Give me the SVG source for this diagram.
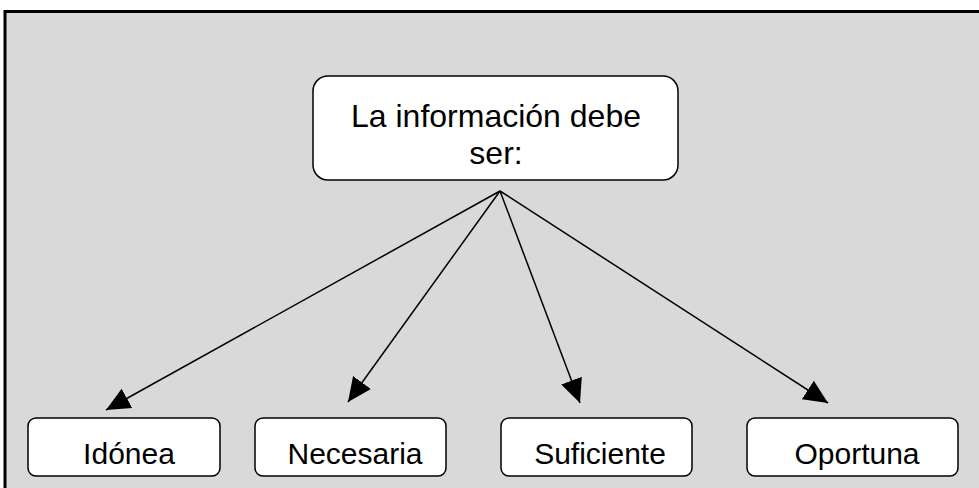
<svg xmlns="http://www.w3.org/2000/svg" width="979" height="488" viewBox="0 0 979 488">
  <style>
    .box { fill: #ffffff; stroke: #000000; stroke-width: 1.5; }
    .lbl { font-family: "Liberation Sans", Arial, sans-serif; fill: #000000; text-anchor: middle; }
    .conn { stroke: #000000; stroke-width: 1.5; fill: none; marker-end: url(#arrow); }
  </style>
  <defs>
    <marker id="arrow" markerUnits="userSpaceOnUse" markerWidth="26" markerHeight="26" viewBox="0 0 26 26" refX="24" refY="13" orient="auto">
      <path d="M0,2 L24,13 L0,24 Z" fill="#000000"/>
    </marker>
  </defs>
  <rect x="0" y="0" width="979" height="488" fill="#ffffff"/>
  <rect x="5" y="11.5" width="974" height="476.5" fill="#d9d9d9"/>
  <path d="M5,488 L5,11.5 L979,11.5" fill="none" stroke="#000000" stroke-width="3"/>

  <g id="connectors">
    <line class="conn" x1="500" y1="191" x2="106" y2="410"/>
    <line class="conn" x1="500" y1="191" x2="348" y2="402"/>
    <line class="conn" x1="500" y1="191" x2="580" y2="403"/>
    <line class="conn" x1="500" y1="191" x2="828" y2="403"/>
  </g>

  <g id="node-main">
    <rect class="box" x="313" y="76" width="365" height="104" rx="15" ry="15"/>
    <text class="lbl" x="496" y="127" font-size="32">La información debe</text>
    <text class="lbl" x="496" y="164" font-size="32">ser:</text>
  </g>
  <g id="node-idonea">
    <rect class="box" x="28" y="418" width="192" height="58" rx="8" ry="8"/>
    <text class="lbl" x="129" y="464" font-size="30">Idónea</text>
  </g>
  <g id="node-necesaria">
    <rect class="box" x="255" y="418" width="191" height="58" rx="8" ry="8"/>
    <text class="lbl" x="355" y="464" font-size="30">Necesaria</text>
  </g>
  <g id="node-suficiente">
    <rect class="box" x="501" y="418" width="191" height="58" rx="8" ry="8"/>
    <text class="lbl" x="600" y="464" font-size="30">Suficiente</text>
  </g>
  <g id="node-oportuna">
    <rect class="box" x="747" y="418" width="211" height="58" rx="8" ry="8"/>
    <text class="lbl" x="857" y="464" font-size="30">Oportuna</text>
  </g>
</svg>
